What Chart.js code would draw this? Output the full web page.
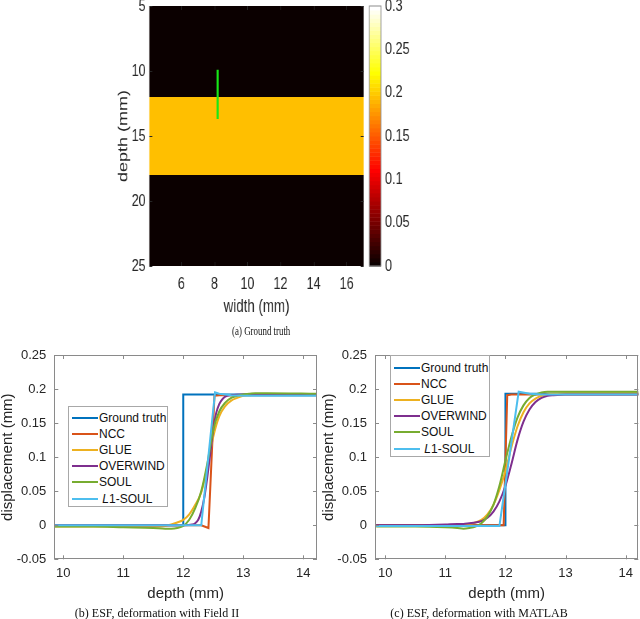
<!DOCTYPE html>
<html>
<head>
<meta charset="utf-8">
<script src="https://cdn.jsdelivr.net/npm/chart.js@4.4.1/dist/chart.umd.min.js"></script>
<style>
    body { margin: 0; background: #fff; width: 640px; height: 619px; position: relative; overflow: hidden; font-family: "Liberation Sans", Arial, sans-serif; }
    #topWrap { position: absolute; left: 0; top: 0; width: 562px; height: 345px; transform: scaleX(0.74); transform-origin: 0 0; }
    canvas { position: absolute; }
    .cap { position: absolute; font-family: "Liberation Serif", "Times New Roman", serif; font-size: 12px; color: #111; white-space: nowrap; transform: translate(-50%, -50%); }
    .legend { position: absolute; box-sizing: border-box; border: 1px solid #a8a8a8; background: #fff; font-size: 12px; color: #111; }
    .legend .row { position: absolute; left: 0; height: 16px; line-height: 16px; white-space: nowrap; }
    .legend .sw { position: absolute; left: 3px; top: 7px; width: 26px; height: 2px; }
    .legend .txt { position: absolute; left: 30px; top: 0; }
</style>
</head>
<body>
<div id="topWrap">
    <canvas id="mapChart" width="562" height="320" style="left:0;top:0"></canvas>
    <div class="cap" style="left:353px;top:331px">(a) Ground truth</div>
</div>
<canvas id="fieldChart" width="330" height="272" style="left:0;top:330px"></canvas>
<canvas id="matlabChart" width="320" height="272" style="left:320px;top:330px"></canvas>
<div class="cap" style="left:157px;top:613px">(b) ESF, deformation with Field II</div>
<div class="cap" style="left:479px;top:613px">(c) ESF, deformation with MATLAB</div>
<div class="legend" id="fieldLegend" style="left:68px;top:406px;width:100px;height:101px"></div>
<div class="legend" id="matlabLegend" style="left:390px;top:355px;width:100px;height:102px"></div>

<script>
// ground truth map (a)
const mapDepthTop = [5, 12, 18];
const mapDepthBottom = [12, 18, 25];
const mapValue = [0, 0.195, 0];
const mapWidthRange = [4.07, 17.03];
const markerWidth = [8.2, 8.2];
const markerDepth = [9.9, 13.7];
const mapXTicks = [6, 8, 10, 12, 14, 16];
const mapYTicks = [5, 10, 15, 20, 25];
const cbTicks = [0, 0.05, 0.1, 0.15, 0.2, 0.25, 0.3];

// ESF curves
const methods = ['Ground truth', 'NCC', 'GLUE', 'OVERWIND', 'SOUL', 'L1-SOUL'];
const colors = ['#0072BD', '#D95319', '#EDB120', '#7E2F8E', '#77AC30', '#4DBEEE'];
const esfXTicks = [10, 11, 12, 13, 14];
const esfYTicks = [-0.05, 0, 0.05, 0.1, 0.15, 0.2, 0.25];

// (b) Field II
const fieldGtX = [9.85, 12.0, 12.0, 14.25];
const fieldGtY = [0, 0, 0.192, 0.192];
const fieldNccX = [9.85, 12.3, 12.42, 12.52, 12.6, 14.25];
const fieldNccY = [0, 0, -0.004, 0.19, 0.191, 0.191];
const fieldSmoothX = [9.85, 10.5, 11.0, 11.5, 11.7, 11.8, 11.9, 12.0, 12.1, 12.2, 12.3, 12.4, 12.5, 12.6, 12.7, 12.8, 12.9, 13.0, 13.1, 13.2, 13.4, 14.25];
const fieldGlueY = [-0.002, -0.002, -0.002, -0.002, -0.001, 0.001, 0.004, 0.008, 0.016, 0.03, 0.048, 0.085, 0.13, 0.16, 0.175, 0.183, 0.187, 0.19, 0.191, 0.192, 0.192, 0.192];
const fieldSoulY = [-0.002, -0.002, -0.003, -0.004, -0.005, -0.005, -0.004, -0.001, 0.008, 0.025, 0.05, 0.09, 0.14, 0.167, 0.18, 0.187, 0.19, 0.192, 0.193, 0.194, 0.194, 0.193];
const fieldOverX = [9.85, 12.0, 12.15, 12.2, 12.25, 12.3, 12.35, 12.4, 12.45, 12.5, 12.55, 12.6, 12.65, 12.7, 12.8, 13.0, 14.25];
const fieldOverY = [0, 0, 0.001, 0.003, 0.008, 0.02, 0.04, 0.07, 0.105, 0.14, 0.165, 0.178, 0.185, 0.189, 0.191, 0.192, 0.192];
const fieldL1X = [9.85, 12.3, 12.53, 12.6, 12.8, 13.0, 14.25];
const fieldL1Y = [0, 0, 0.195, 0.193, 0.191, 0.19, 0.19];

// (c) MATLAB
const matGtX = [9.85, 12.0, 12.0, 14.25];
const matGtY = [0, 0, 0.193, 0.193];
const matNccX = [9.85, 11.97, 12.03, 12.1, 14.25];
const matNccY = [0, 0, 0.191, 0.192, 0.192];
const matSmoothX = [9.85, 10.5, 11.0, 11.2, 11.3, 11.4, 11.5, 11.6, 11.7, 11.8, 11.9, 12.0, 12.1, 12.2, 12.3, 12.4, 12.5, 12.6, 12.7, 12.8, 13.0, 14.25];
const matGlueY = [-0.001, -0.001, -0.001, 0, 0.001, 0.002, 0.004, 0.008, 0.016, 0.03, 0.052, 0.08, 0.115, 0.145, 0.166, 0.179, 0.186, 0.19, 0.192, 0.193, 0.194, 0.194];
const matOverY = [0, 0, 0.001, 0.002, 0.002, 0.003, 0.004, 0.006, 0.011, 0.02, 0.035, 0.058, 0.09, 0.125, 0.152, 0.17, 0.181, 0.187, 0.19, 0.191, 0.192, 0.192];
const matSoulY = [-0.002, -0.002, -0.003, -0.004, -0.005, -0.004, -0.002, 0.003, 0.013, 0.03, 0.058, 0.095, 0.13, 0.158, 0.176, 0.187, 0.192, 0.195, 0.196, 0.196, 0.196, 0.196];
const matL1X = [9.85, 11.9, 12.22, 12.4, 12.6, 14.25];
const matL1Y = [-0.001, -0.001, 0.196, 0.193, 0.192, 0.192];

const textColor = '#262626';
const noGrid = { display: false, drawTicks: false };

// matlab "hot" colormap, 64 levels
function hotColor(t) {
    let k = Math.min(63, Math.max(0, Math.floor(t * 64)));
    let r = Math.min(1, (k + 1) / 24);
    let g = Math.min(1, Math.max(0, (k + 1 - 24) / 24));
    let b = Math.min(1, Math.max(0, (k + 1 - 48) / 16));
    return `rgb(${Math.round(r * 255)},${Math.round(g * 255)},${Math.round(b * 255)})`;
}

function pts(xs, ys) {
    return xs.map((x, i) => ({ x: x, y: ys[i] }));
}

function fixTicks(list) {
    return function (axis) {
        axis.ticks = list.map(v => ({ value: v }));
    };
}

function fixSize(w, h) {
    return function (axis) {
        if (w !== null) axis.width = w;
        if (h !== null) axis.height = h;
        axis.paddingTop = 0; axis.paddingBottom = 0;
        axis.paddingLeft = 0; axis.paddingRight = 0;
    };
}

// box + inward ticks like matlab axes
const boxTicks = {
    id: 'boxTicks',
    afterDatasetsDraw(chart, args, opts) {
        const { ctx, chartArea: a, scales } = chart;
        const len = opts.len || 4;
        ctx.save();
        ctx.strokeStyle = opts.color || '#888';
        ctx.lineWidth = 1;
        ctx.beginPath();
        scales.x.ticks.forEach(t => {
            let px = Math.round(scales.x.getPixelForValue(t.value)) + 0.5;
            ctx.moveTo(px, a.bottom); ctx.lineTo(px, a.bottom - len);
            ctx.moveTo(px, a.top); ctx.lineTo(px, a.top + len);
        });
        scales.y.ticks.forEach(t => {
            let py = Math.round(scales.y.getPixelForValue(t.value)) + 0.5;
            ctx.moveTo(a.left, py); ctx.lineTo(a.left + len, py);
            ctx.moveTo(a.right, py); ctx.lineTo(a.right - len, py);
        });
        ctx.stroke();
        if (opts.box) {
            ctx.strokeRect(Math.round(a.left) + 0.5, Math.round(a.top) + 0.5, Math.round(a.width) - 1, Math.round(a.height) - 1);
        }
        ctx.restore();
    }
};

// heatmap cells and colorbar, placed through the chart scales
const mapCells = {
    id: 'mapCells',
    beforeDatasetsDraw(chart) {
        const { ctx, scales: { x, y, cb } } = chart;
        const cmax = cbTicks[cbTicks.length - 1];
        ctx.save();
        mapValue.forEach((v, i) => {
            let x0 = x.getPixelForValue(mapWidthRange[0]);
            let x1 = x.getPixelForValue(mapWidthRange[1]);
            let y0 = y.getPixelForValue(mapDepthTop[i]);
            let y1 = y.getPixelForValue(mapDepthBottom[i]);
            ctx.fillStyle = hotColor(v / cmax);
            ctx.fillRect(x0, y0, x1 - x0, y1 - y0);
        });
        const left = cb.left + 7.6, w = 15.8;
        for (let k = 0; k < 64; k++) {
            let ya = cb.getPixelForValue(k / 64 * cmax);
            let yb = cb.getPixelForValue((k + 1) / 64 * cmax);
            ctx.fillStyle = hotColor((k + 0.5) / 64);
            ctx.fillRect(left, yb, w, ya - yb + 0.5);
        }
        ctx.strokeStyle = '#8c8c8c';
        ctx.lineWidth = 1;
        ctx.strokeRect(left, cb.top, w, cb.bottom - cb.top);
        ctx.restore();
    }
};

// (a) ground truth map
new Chart(document.getElementById('mapChart'), {
    type: 'scatter',
    data: {
        datasets: [{
            data: pts(markerWidth, markerDepth),
            showLine: true,
            borderColor: '#17e817',
            borderWidth: 3,
            pointRadius: 0
        }]
    },
    options: {
        responsive: false,
        animation: false,
        events: [],
        layout: { padding: { left: 156, top: 6, right: 0, bottom: 0 } },
        plugins: { legend: { display: false }, tooltip: { enabled: false }, boxTicks: { color: '#262626', len: 4 } },
        scales: {
            x: {
                type: 'linear', min: mapWidthRange[0], max: mapWidthRange[1],
                grid: noGrid, border: { display: false },
                afterBuildTicks: fixTicks(mapXTicks),
                afterFit: fixSize(null, 54),
                ticks: { autoSkip: false, padding: 8, color: textColor, font: { size: 17 }, callback: v => String(v) },
                title: { display: true, text: 'width (mm)', color: textColor, font: { size: 18 }, padding: { top: 0, bottom: 2.5 } }
            },
            y: {
                type: 'linear', min: 5, max: 25, reverse: true,
                grid: noGrid, border: { display: false },
                afterBuildTicks: fixTicks(mapYTicks),
                afterFit: fixSize(45.8, null),
                ticks: { autoSkip: false, padding: 5, color: textColor, font: { size: 17 }, callback: v => String(v) },
                title: { display: true, text: 'depth (mm)', color: textColor, font: { size: 18 }, padding: { top: 0, bottom: 0 } }
            },
            cb: {
                type: 'linear', position: 'right', min: 0, max: 0.3,
                grid: noGrid, border: { display: false },
                afterBuildTicks: fixTicks(cbTicks),
                afterFit: fixSize(70.5, null),
                ticks: { autoSkip: false, padding: 28.8, color: textColor, font: { size: 17 }, callback: v => String(v) }
            }
        }
    },
    plugins: [mapCells, boxTicks]
});

function esfChart(id, series, layout) {
    const datasets = series.map((s, i) => ({
        label: methods[i],
        data: pts(s[0], s[1]),
        showLine: true,
        borderColor: colors[i],
        borderWidth: 2,
        pointRadius: 0,
        cubicInterpolationMode: s[2] ? 'monotone' : 'default',
        tension: 0,
        order: series.length - i
    }));
    new Chart(document.getElementById(id), {
        type: 'scatter',
        data: { datasets: datasets },
        options: {
            responsive: false,
            animation: false,
            events: [],
            layout: { padding: { left: layout.padLeft, top: 25, right: layout.padRight, bottom: 0 } },
            plugins: { legend: { display: false }, tooltip: { enabled: false }, boxTicks: { color: '#8a8a8a', len: 4, box: true } },
            scales: {
                x: {
                    type: 'linear', min: layout.xMin, max: layout.xMax,
                    grid: noGrid, border: { display: false },
                    afterBuildTicks: fixTicks(esfXTicks),
                    afterFit: fixSize(null, 42.7),
                    ticks: { autoSkip: false, padding: 6, color: textColor, font: { size: 13 }, callback: v => String(v) },
                    title: { display: true, text: 'depth (mm)', color: textColor, font: { size: 15, lineHeight: 1 }, padding: { top: 0, bottom: 1 } }
                },
                y: {
                    type: 'linear', min: -0.05, max: 0.25,
                    grid: noGrid, border: { display: false },
                    afterBuildTicks: fixTicks(esfYTicks),
                    afterFit: fixSize(layout.yWidth, null),
                    ticks: { autoSkip: false, padding: 8, color: textColor, font: { size: 13 }, callback: v => String(v) },
                    title: { display: true, text: 'displacement (mm)', color: textColor, font: { size: 15, lineHeight: 1 }, padding: { top: 0, bottom: 0 } }
                }
            }
        },
        plugins: [boxTicks]
    });
}

esfChart('fieldChart', [
    [fieldGtX, fieldGtY, false],
    [fieldNccX, fieldNccY, false],
    [fieldSmoothX, fieldGlueY, true],
    [fieldOverX, fieldOverY, true],
    [fieldSmoothX, fieldSoulY, true],
    [fieldL1X, fieldL1Y, false]
], { padLeft: 0, padRight: 13, yWidth: 54.3, xMin: 9.85, xMax: 14.23 });

esfChart('matlabChart', [
    [matGtX, matGtY, false],
    [matNccX, matNccY, false],
    [matSmoothX, matGlueY, true],
    [matSmoothX, matOverY, true],
    [matSmoothX, matSoulY, true],
    [matL1X, matL1Y, false]
], { padLeft: 1.7, padRight: 1.7, yWidth: 53.3, xMin: 9.83, xMax: 14.21 });

// legends inside the axes
function buildLegend(id, firstRow) {
    let html = '';
    methods.forEach((name, i) => {
        let label = name === 'L1-SOUL' ? '&nbsp;<i>L</i>1-SOUL' : name;
        let top = firstRow + 16.2 * i - 8;
        html += `<div class="row" style="top:${top}px"><span class="sw" style="background:${colors[i]}"></span><span class="txt">${label}</span></div>`;
    });
    document.getElementById(id).innerHTML = html;
}
buildLegend('fieldLegend', 10.5);
buildLegend('matlabLegend', 11.5);
</script>
</body>
</html>
